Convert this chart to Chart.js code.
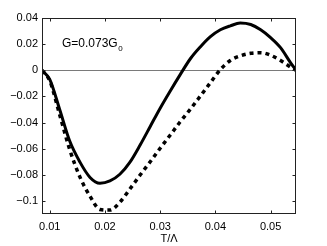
<!DOCTYPE html>
<html>
<head>
<meta charset="utf-8">
<script src="https://cdn.jsdelivr.net/npm/chart.js@4/dist/chart.umd.min.js"></script>
<style>
  html, body { margin: 0; padding: 0; background: #fff; }
  #wrap { width: 327px; height: 246px; }
</style>
</head>
<body>
<div id="wrap"><canvas id="chart" width="327" height="246"></canvas></div>
<script>
// values
const tValues = [0.0086, 0.0100, 0.0118, 0.0136, 0.0155, 0.0173, 0.0191, 0.0209, 0.0227,
                 0.0245, 0.0264, 0.0282, 0.0300, 0.0318, 0.0336, 0.0355, 0.0373, 0.0391,
                 0.0409, 0.0427, 0.0445, 0.0464, 0.0482, 0.0500, 0.0518, 0.0536, 0.0546];
const solidValues = [0, -0.007, -0.030, -0.054, -0.0705, -0.082, -0.0865, -0.0847, -0.0796,
                     -0.0705, -0.057, -0.043, -0.029, -0.016, -0.0035, 0.009, 0.018, 0.0257,
                     0.031, 0.034, 0.0361, 0.035, 0.031, 0.025, 0.0173, 0.0059, 0];
const dashedValues = [0, -0.008, -0.034, -0.0605, -0.082, -0.0964, -0.1065, -0.107, -0.101,
                      -0.091, -0.080, -0.070, -0.0597, -0.0497, -0.0396, -0.0296, -0.0196, -0.0095,
                      0.0005, 0.0075, 0.011, 0.013, 0.0135, 0.0115, 0.0075, 0.0025, 0];
const xTicks = [0.01, 0.02, 0.03, 0.04, 0.05];
const xTickLabels = ['0.01', '0.02', '0.03', '0.04', '0.05'];
const yTicks = [0.04, 0.02, 0, -0.02, -0.04, -0.06, -0.08, -0.1];
const yTickLabels = ['0.04', '0.02', '0', '\u22120.02', '\u22120.04', '\u22120.06', '\u22120.08', '\u22120.1'];
const xTitle = 'T/\u039B';
const noteText = 'G=0.073G';
const noteSub = '0';

const FONT = '"Liberation Sans", Arial, sans-serif';

function pts(ys) {
    return tValues.map((t, i) => ({ x: t, y: ys[i] }));
}

// frame, inward ticks on all four sides, zero line and the text note
const framePlugin = {
    id: 'frame',
    beforeDatasetsDraw(chart) {
        const { ctx, chartArea: a, scales } = chart;
        const y0 = Math.round(scales.y.getPixelForValue(0)) + 0.5;
        ctx.save();
        ctx.strokeStyle = '#7a7a7a';
        ctx.lineWidth = 1;
        ctx.beginPath();
        ctx.moveTo(a.left, y0);
        ctx.lineTo(a.right, y0);
        ctx.stroke();
        ctx.restore();
    },
    afterDatasetsDraw(chart) {
        const { ctx, chartArea: a, scales } = chart;
        const L = Math.round(a.left) + 0.5, R = Math.round(a.right) - 0.5;
        const T = Math.round(a.top) + 0.5, B = Math.round(a.bottom) - 0.5;
        ctx.save();
        ctx.strokeStyle = '#222';
        ctx.lineWidth = 1;
        ctx.strokeRect(L, T, R - L, B - T);
        ctx.beginPath();
        xTicks.forEach(v => {
            const px = Math.round(scales.x.getPixelForValue(v)) + 0.5;
            ctx.moveTo(px, B); ctx.lineTo(px, B - 3);
            ctx.moveTo(px, T); ctx.lineTo(px, T + 3);
        });
        yTicks.forEach(v => {
            const py = Math.round(scales.y.getPixelForValue(v)) + 0.5;
            ctx.moveTo(L, py); ctx.lineTo(L + 3, py);
            ctx.moveTo(R, py); ctx.lineTo(R - 3, py);
        });
        ctx.stroke();

        // G=0.073G0 note
        ctx.fillStyle = '#000';
        ctx.textBaseline = 'alphabetic';
        ctx.font = '12px ' + FONT;
        const nx = 62, ny = 47;
        ctx.fillText(noteText, nx, ny);
        const w = ctx.measureText(noteText).width;
        ctx.font = '8px ' + FONT;
        ctx.fillText(noteSub, nx + w + 0.5, ny + 4);
        ctx.restore();
    }
};

new Chart(document.getElementById('chart'), {
    type: 'line',
    data: {
        datasets: [
            {
                data: pts(solidValues),
                borderColor: '#000',
                borderWidth: 3,
                pointRadius: 0,
                cubicInterpolationMode: 'monotone',
                fill: false
            },
            {
                data: pts(dashedValues),
                borderColor: '#000',
                borderWidth: 3.5,
                borderDash: [4, 4],
                borderCapStyle: 'butt',
                pointRadius: 0,
                cubicInterpolationMode: 'monotone',
                fill: false
            }
        ]
    },
    options: {
        responsive: false,
        devicePixelRatio: 1,
        animation: false,
        layout: { padding: { top: 18, right: 31, left: 0, bottom: 0 } },
        plugins: { legend: { display: false }, tooltip: { enabled: false } },
        scales: {
            x: {
                type: 'linear',
                min: 0.0086,
                max: 0.0546,
                afterBuildTicks: s => { s.ticks = xTicks.map(v => ({ value: v })); },
                afterFit: s => { s.height = 32; },
                grid: { display: false, drawTicks: false },
                border: { display: false },
                ticks: {
                    color: '#000',
                    padding: 6,
                    maxRotation: 0,
                    autoSkip: false,
                    font: { family: FONT, size: 11 },
                    callback: (v, i) => xTickLabels[i]
                },
                title: {
                    display: true,
                    text: xTitle,
                    color: '#000',
                    padding: { top: 1, bottom: 0 },
                    font: { family: FONT, size: 11 }
                }
            },
            y: {
                type: 'linear',
                min: -0.11,
                max: 0.04,
                afterBuildTicks: s => { s.ticks = yTicks.map(v => ({ value: v })); },
                afterFit: s => { s.width = 42; },
                grid: { display: false, drawTicks: false },
                border: { display: false },
                ticks: {
                    color: '#000',
                    padding: 4,
                    autoSkip: false,
                    font: { family: FONT, size: 11 },
                    callback: (v, i) => yTickLabels[i]
                }
            }
        }
    },
    plugins: [framePlugin]
});
</script>
</body>
</html>
